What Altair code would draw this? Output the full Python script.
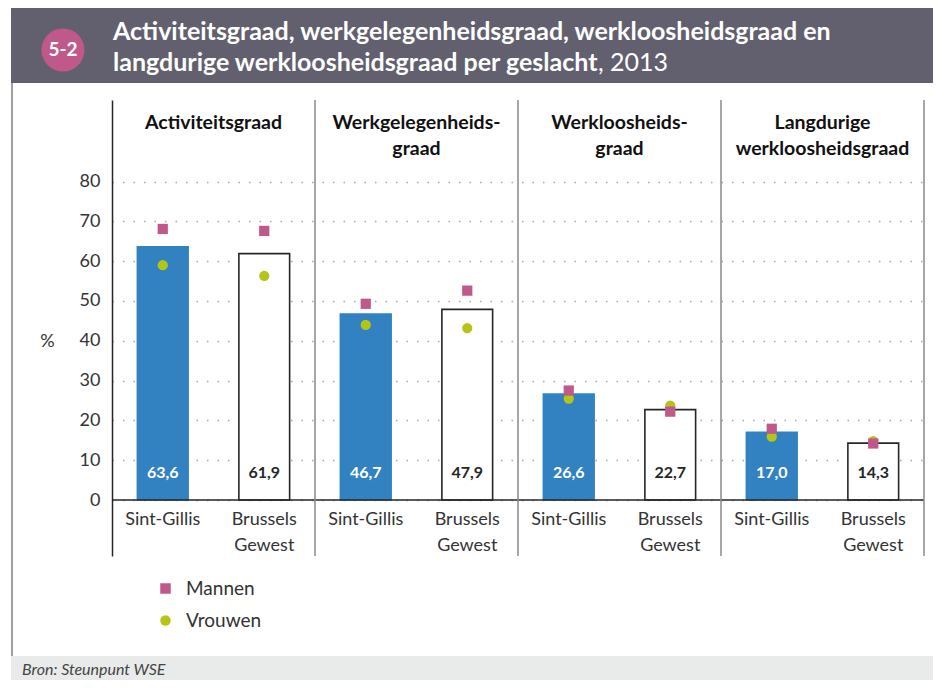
import altair as alt
import pandas as pd

# ---------------- data ----------------
indicators = ["Activiteitsgraad", "Werkgelegenheidsgraad", "Werkloosheidsgraad",
              "Langdurige werkloosheidsgraad"]
panel_headers = ["Activiteitsgraad", "Werkgelegenheids-\ngraad", "Werkloosheids-\ngraad",
                 "Langdurige\nwerkloosheidsgraad"]
regions = ["Sint-Gillis", "Brussels Gewest"]
genders = ["Mannen", "Vrouwen"]

total_sg = [63.6, 46.7, 26.6, 17.0]
total_bg = [61.9, 47.9, 22.7, 14.3]
mannen_sg = [68.1, 49.3, 27.5, 17.9]
mannen_bg = [67.6, 52.6, 22.2, 14.2]
vrouwen_sg = [59.0, 44.0, 25.5, 15.9]
vrouwen_bg = [56.3, 43.2, 23.7, 14.8]

y_ticks = [0, 10, 20, 30, 40, 50, 60, 70, 80]

title_line1 = "Activiteitsgraad, werkgelegenheidsgraad, werkloosheidsgraad en"
title_line2_bold = "langdurige werkloosheidsgraad per geslacht"
title_line2_reg = ", 2013"
badge = "5-2"
source = "Bron: Steunpunt WSE"

# ---------------- tables ----------------
keys = [f"{i}|{r}" for i in range(len(indicators)) for r in regions]
bar_rows, pt_rows = [], []
for i in range(len(indicators)):
    for r, tot, m, v in [(regions[0], total_sg[i], mannen_sg[i], vrouwen_sg[i]),
                         (regions[1], total_bg[i], mannen_bg[i], vrouwen_bg[i])]:
        key = f"{i}|{r}"
        bar_rows.append({"key": key, "region": r, "value": tot,
                         "txt": f"{tot:.1f}".replace(".", ","),
                         "cat": r.replace(" ", "\n")})
        pt_rows.append({"key": key, "geslacht": "Vrouwen", "value": v, "ord": 0})
        pt_rows.append({"key": key, "geslacht": "Mannen", "value": m, "ord": 1})
bars_df = pd.DataFrame(bar_rows)
pts_df = pd.DataFrame(pt_rows)
panel_df = pd.DataFrame({"pos": [i + 0.5 for i in range(len(indicators))],
                         "edge": [i + 1 for i in range(len(indicators))],
                         "header": panel_headers})
one = pd.DataFrame({"a": [0]})

# ---------------- styles ----------------
FONT = "Lato"
BLUE = "#3282c1"
PINK = "#c0598b"
GREEN = "#b4c518"
BAND = "#625f6e"
DARK = "#262626"
TXT = "#333333"

W, H = 812, 456
xscale = alt.Scale(domain=keys, paddingInner=0.5, paddingOuter=0.25)
X = alt.X("key:N", scale=xscale, axis=None)
yscale = alt.Scale(domain=[-14.07, 100.5], nice=False, zero=False)
is_sg = alt.datum.region == regions[0]

bars = alt.Chart(bars_df).mark_bar(strokeWidth=1.6).encode(
    x=X,
    y=alt.Y("value:Q", scale=yscale, title="%",
            axis=alt.Axis(values=y_ticks, grid=True, gridDash=[1.5, 9], gridColor="#a8a8a8",
                          gridWidth=1.4, ticks=False, domainColor=DARK, domainWidth=1.5,
                          labelFontSize=18, labelColor=TXT, labelPadding=12,
                          titleAngle=0, titleFontSize=18, titleFontWeight="normal",
                          titleColor=TXT, titleX=-65, titleY=241, titleAlign="center",
                          titleBaseline="middle")),
    y2=alt.datum(0),
    fill=alt.condition(is_sg, alt.value(BLUE), alt.value("white")),
    stroke=alt.condition(is_sg, alt.value(BLUE), alt.value(DARK)),
)

baseline = alt.Chart(one).mark_rule(color=DARK, strokeWidth=1.6).encode(y=alt.datum(0))

bar_text = alt.Chart(bars_df).mark_text(fontSize=16, fontWeight="bold", baseline="middle",
                                        dy=-27).encode(
    x=X, y=alt.datum(0), text="txt:N",
    color=alt.condition(is_sg, alt.value("white"), alt.value(DARK)),
)

cat_text = alt.Chart(bars_df).mark_text(fontSize=18, baseline="top", lineBreak="\n",
                                        lineHeight=26, dy=11, color=TXT).encode(
    x=X, y=alt.datum(0), text="cat:N",
)

leg = alt.Legend(title=None, orient="none", legendX=44, legendY=479,
                 labelFontSize=19, labelColor=TXT, symbolSize=110,
                 rowPadding=12, labelOffset=11, padding=0)
points = alt.Chart(pts_df).mark_point(filled=True, opacity=1, size=105).encode(
    x=X,
    y=alt.Y("value:Q", scale=yscale),
    color=alt.Color("geslacht:N", scale=alt.Scale(domain=genders, range=[PINK, GREEN]),
                    legend=leg),
    shape=alt.Shape("geslacht:N", scale=alt.Scale(domain=genders, range=["square", "circle"]),
                    legend=leg),
    order=alt.Order("ord:Q"),
)

band_layers = alt.layer(bars, baseline, bar_text, cat_text, points)

QX = alt.Scale(domain=[0, len(indicators)], nice=False, zero=False)
seps = alt.Chart(panel_df).mark_rule(color="#8a8a8a", strokeWidth=1.5).encode(
    x=alt.X("edge:Q", scale=QX, axis=None))
heads = alt.Chart(panel_df).mark_text(fontSize=19.5, fontWeight="bold", baseline="top",
                                      lineBreak="\n", lineHeight=26, color="#111").encode(
    x=alt.X("pos:Q", scale=QX, axis=None), y=alt.value(14), text="header:N")

# decoration (header band, badge, title, frame, footer)
hdr = alt.Chart(one).mark_rect(color=BAND).encode(
    x=alt.value(-101), x2=alt.value(821), y=alt.value(-92), y2=alt.value(-17))
frame = alt.Chart(one).mark_rule(color="#a0a0a0", strokeWidth=2).encode(
    x=alt.value(-100), y=alt.value(-17), y2=alt.value(556))
foot = alt.Chart(one).mark_rect(color="#e9eaea").encode(
    x=alt.value(-101), x2=alt.value(821), y=alt.value(556), y2=alt.value(580))
foot_txt = alt.Chart(one).mark_text(fontSize=16, fontStyle="italic", align="left",
                                    baseline="middle", color="#444").encode(
    x=alt.value(-90), y=alt.value(570), text=alt.value(source))
circ = alt.Chart(one).mark_point(filled=True, opacity=1, shape="circle", size=1850,
                                 color=PINK).encode(x=alt.value(-49), y=alt.value(-50))
badge_txt = alt.Chart(one).mark_text(fontSize=19, fontWeight="bold", color="white",
                                     baseline="middle").encode(
    x=alt.value(-49), y=alt.value(-50), text=alt.value(badge))
TS = 25
t1 = alt.Chart(one).mark_text(fontSize=TS, fontWeight="bold", color="white", align="left",
                              baseline="middle").encode(
    x=alt.value(1), y=alt.value(-68), text=alt.value(title_line1))
t2 = alt.Chart(one).mark_text(fontSize=TS, fontWeight="bold", color="white", align="left",
                              baseline="middle").encode(
    x=alt.value(1), y=alt.value(-37), text=alt.value(title_line2_bold))
t3 = alt.Chart(one).mark_text(fontSize=TS, fontWeight="normal", color="white", align="left",
                              baseline="middle").encode(
    x=alt.value(486), y=alt.value(-37), text=alt.value(title_line2_reg))

q_layers = alt.layer(seps, heads, hdr, frame, foot, foot_txt, circ, badge_txt, t1, t2, t3)

chart = alt.layer(band_layers, q_layers).resolve_scale(x="independent").properties(
    width=W, height=H,
    padding={"left": 104, "top": 92, "right": 9, "bottom": 124},
    autosize=alt.AutoSizeParams(type="none"),
).configure(font=FONT).configure_view(stroke=None)

chart.save("out.html", embed_options={"renderer": "svg", "actions": False})
